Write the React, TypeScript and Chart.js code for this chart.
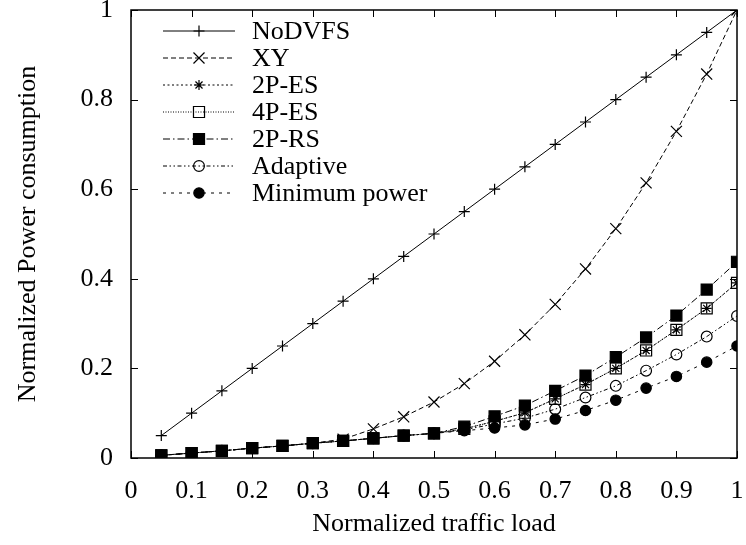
import React, { useEffect, useRef } from "react";
import { Chart, registerables } from "chart.js";
import { drawPoint } from "chart.js/helpers";

Chart.register(...registerables);

// ---- data ----
const loads = [0.05, 0.1, 0.15, 0.2, 0.25, 0.3, 0.35, 0.4, 0.45, 0.5, 0.55, 0.6, 0.65, 0.7, 0.75, 0.8, 0.85, 0.9, 0.95, 1.0];

const noDVFS = [0.05, 0.1, 0.15, 0.2, 0.25, 0.3, 0.35, 0.4, 0.45, 0.5, 0.55, 0.6, 0.65, 0.7, 0.75, 0.8, 0.85, 0.9, 0.95, 1.0];
const xy = [0.006, 0.011, 0.016, 0.022, 0.027, 0.033, 0.042, 0.065, 0.092, 0.125, 0.166, 0.216, 0.275, 0.343, 0.422, 0.512, 0.614, 0.729, 0.857, 1.0];
const es2p = [0.006, 0.011, 0.016, 0.022, 0.027, 0.033, 0.038, 0.044, 0.05, 0.055, 0.065, 0.082, 0.101, 0.132, 0.164, 0.2, 0.24, 0.286, 0.334, 0.391];
const es4p = [0.006, 0.011, 0.016, 0.022, 0.027, 0.033, 0.038, 0.044, 0.05, 0.055, 0.065, 0.082, 0.101, 0.132, 0.164, 0.2, 0.24, 0.286, 0.334, 0.391];
const rs2p = [0.006, 0.011, 0.016, 0.022, 0.027, 0.033, 0.038, 0.044, 0.05, 0.055, 0.07, 0.093, 0.117, 0.15, 0.184, 0.225, 0.269, 0.318, 0.376, 0.438];
const adaptive = [0.006, 0.011, 0.016, 0.022, 0.027, 0.033, 0.038, 0.044, 0.05, 0.055, 0.063, 0.076, 0.089, 0.109, 0.135, 0.161, 0.195, 0.231, 0.271, 0.317];
const minPower = [0.006, 0.011, 0.016, 0.022, 0.027, 0.033, 0.038, 0.044, 0.05, 0.055, 0.061, 0.067, 0.074, 0.087, 0.106, 0.129, 0.156, 0.182, 0.214, 0.25];

const seriesNames = ["NoDVFS", "XY", "2P-ES", "4P-ES", "2P-RS", "Adaptive", "Minimum power"];
const xTicks = [0, 0.1, 0.2, 0.3, 0.4, 0.5, 0.6, 0.7, 0.8, 0.9, 1];
const yTicks = [0, 0.2, 0.4, 0.6, 0.8, 1];
const xTitle = "Normalized traffic load";
const yTitle = "Normalized Power consumption";

const FONT = "'Liberation Serif', 'Times New Roman', serif";
const FS = 26;

const styles = [
  { dash: [], point: "cross", radius: 5.5, fill: "#000" },
  { dash: [5, 3], point: "crossRot", radius: 7.8, fill: "#000" },
  { dash: [2, 2.5], point: "star", radius: 5, fill: "#000" },
  { dash: [1, 1.5], point: "rect", radius: 7.8, fill: "rgba(0,0,0,0)" },
  { dash: [7, 3, 1.5, 3], point: "rect", radius: 7.8, fill: "#000" },
  { dash: [4, 2.5, 1.5, 2.5, 1.5, 2.5], point: "circle", radius: 5.4, fill: "rgba(0,0,0,0)" },
  { dash: [3, 5], point: "circle", radius: 5.2, fill: "#000" },
];

const allSeries = [noDVFS, xy, es2p, es4p, rs2p, adaptive, minPower];

const fmt = (v: any) => String(Number(Number(v).toFixed(1)));

const framePlugin = {
  id: "frameTicks",
  afterDatasetsDraw(chart: any) {
    const { ctx, chartArea: a, scales } = chart;
    const xs = scales.x;
    const ys = scales.y;
    ctx.save();
    ctx.strokeStyle = "#000";
    ctx.setLineDash([]);
    ctx.lineWidth = 1.5;
    ctx.strokeRect(a.left, a.top, a.right - a.left, a.bottom - a.top);
    ctx.lineWidth = 1;
    const L = 7;
    ctx.beginPath();
    for (const v of xTicks) {
      const px = Math.round(xs.getPixelForValue(v)) + 0.5;
      ctx.moveTo(px, a.bottom);
      ctx.lineTo(px, a.bottom - L);
      ctx.moveTo(px, a.top);
      ctx.lineTo(px, a.top + L);
    }
    for (const v of yTicks) {
      const py = Math.round(ys.getPixelForValue(v)) + 0.5;
      ctx.moveTo(a.left, py);
      ctx.lineTo(a.left + L, py);
      ctx.moveTo(a.right, py);
      ctx.lineTo(a.right - L, py);
    }
    ctx.stroke();
    ctx.restore();
  },
};

const keyPlugin = {
  id: "keyBox",
  afterDraw(chart: any) {
    const { ctx, chartArea: a } = chart;
    const x0 = a.left + 32;
    const x1 = a.left + 104;
    const cx = (x0 + x1) / 2;
    const tx = a.left + 121;
    const y0 = a.top + 21;
    const dy = 27;
    ctx.save();
    chart.data.datasets.forEach((ds: any, i: number) => {
      const y = y0 + i * dy;
      ctx.strokeStyle = "#000";
      ctx.lineWidth = 1;
      ctx.setLineDash(ds.borderDash || []);
      ctx.beginPath();
      ctx.moveTo(x0, y);
      ctx.lineTo(x1, y);
      ctx.stroke();
      ctx.setLineDash([]);
      ctx.fillStyle = ds.pointBackgroundColor;
      ctx.strokeStyle = "#000";
      ctx.lineWidth = 1.2;
      drawPoint(ctx, { pointStyle: ds.pointStyle, radius: ds.pointRadius, borderWidth: 1.2, rotation: 0 }, cx, y);
      ctx.fillStyle = "#000";
      ctx.font = `${FS}px ${FONT}`;
      ctx.textAlign = "left";
      ctx.textBaseline = "middle";
      ctx.fillText(ds.label, tx, y + 1);
    });
    ctx.restore();
  },
};

export default function App() {
  const ref = useRef<HTMLCanvasElement | null>(null);
  useEffect(() => {
    document.body.style.margin = "0";
    const canvas = ref.current;
    if (!canvas) return;
    const datasets = allSeries.map((vals, i) => ({
      label: seriesNames[i],
      data: vals.map((v, j) => ({ x: loads[j], y: v })),
      borderColor: "#000",
      borderWidth: 1,
      borderDash: styles[i].dash,
      pointStyle: styles[i].point,
      pointRadius: styles[i].radius,
      pointHoverRadius: styles[i].radius,
      pointBorderColor: "#000",
      pointBackgroundColor: styles[i].fill,
      pointBorderWidth: 1.2,
      tension: 0,
      fill: false,
      order: allSeries.length - 1 - i,
    }));
    const chart = new Chart(canvas, {
      type: "line",
      data: { datasets },
      options: {
        responsive: false,
        animation: false,
        devicePixelRatio: 1,
        layout: { padding: { top: 10, right: 8, left: 0, bottom: 0 } },
        plugins: { legend: { display: false }, tooltip: { enabled: false } },
        scales: {
          x: {
            type: "linear",
            min: 0,
            max: 1,
            grid: { display: false, drawTicks: false },
            border: { display: false },
            ticks: {
              stepSize: 0.1,
              padding: 18,
              maxRotation: 0,
              autoSkip: false,
              color: "#000",
              font: { family: FONT, size: FS },
              callback: (v: any) => fmt(v),
            },
            title: {
              display: true,
              text: xTitle,
              color: "#000",
              font: { family: FONT, size: FS, lineHeight: 1 },
              padding: { top: 0, bottom: 8 },
            },
            afterFit: (s: any) => {
              s.height = 87;
              s.paddingLeft = 0;
              s.paddingRight = 0;
            },
          },
          y: {
            type: "linear",
            min: 0,
            max: 1,
            grid: { display: false, drawTicks: false },
            border: { display: false },
            ticks: {
              stepSize: 0.2,
              padding: 18,
              color: "#000",
              font: { family: FONT, size: FS },
              callback: (v: any) => fmt(v),
            },
            title: {
              display: true,
              text: yTitle,
              color: "#000",
              font: { family: FONT, size: FS, lineHeight: 1 },
              padding: { top: 15, bottom: 0 },
            },
            afterFit: (s: any) => {
              s.width = 131;
              s.paddingTop = 0;
              s.paddingBottom = 0;
            },
          },
        },
      },
      plugins: [framePlugin, keyPlugin],
    });
    return () => chart.destroy();
  }, []);
  return (
    <div style={{ width: 746, height: 545, background: "#fff" }}>
      <canvas ref={ref} width={746} height={545} style={{ display: "block" }} />
    </div>
  );
}
